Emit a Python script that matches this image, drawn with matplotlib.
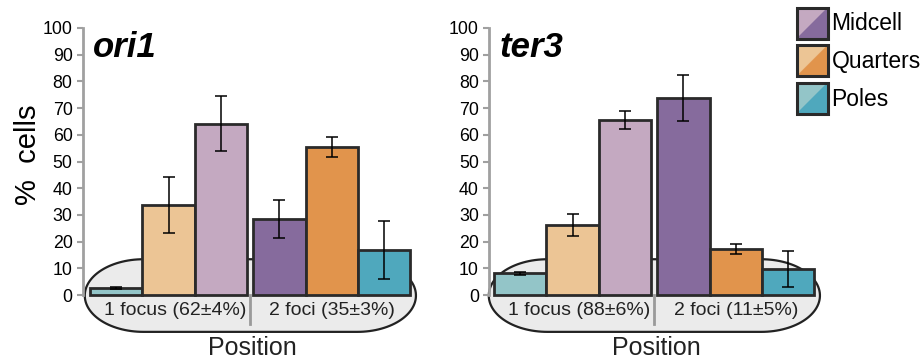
import numpy as np
import matplotlib
import matplotlib.pyplot as plt
from matplotlib.patches import Polygon

matplotlib.rcParams.update({
    'font.family': ['Liberation Sans', 'DejaVu Sans'],
    'font.size': 12.5,
})

# order within a group: 1 focus -> Poles, Quarters, Midcell ; 2 foci -> Midcell, Quarters, Poles
panels = ['ori1', 'ter3']
one_focus_cats = ['Poles', 'Quarters', 'Midcell']
two_foci_cats = ['Midcell', 'Quarters', 'Poles']

ori1_one = [2.5, 33.7, 64.2]
ori1_one_err = [0.4, 10.5, 10.3]
ori1_two = [28.5, 55.3, 16.8]
ori1_two_err = [7.2, 3.7, 10.8]

ter3_one = [8.1, 26.1, 65.5]
ter3_one_err = [0.6, 4.1, 3.4]
ter3_two = [73.8, 17.3, 9.8]
ter3_two_err = [8.5, 1.9, 6.8]

group_labels = {
    'ori1': ['1 focus (62±4%)', '2 foci (35±3%)'],
    'ter3': ['1 focus (88±6%)', '2 foci (11±5%)'],
}

light = {'Poles': '#93c5c8', 'Quarters': '#ecc595', 'Midcell': '#c4a9c1'}
dark = {'Poles': '#4fa8bd', 'Quarters': '#e1944c', 'Midcell': '#866b9d'}

data = {
    'ori1': (ori1_one, ori1_one_err, ori1_two, ori1_two_err),
    'ter3': (ter3_one, ter3_one_err, ter3_two, ter3_two_err),
}

W, H = 923, 362
fig = plt.figure(figsize=(W / 100, H / 100), dpi=100)

ax_specs = {
    'ori1': dict(left_px=83, xmin=-0.634),
    'ter3': dict(left_px=489.3, xmin=-0.59),
}
px_per_unit = 52.4
ymin, ymax = -14, 100
top_px, bot_px = 28, 332.4
gap = 0.115


def stadium(x0, x1, ylo, yhi, rx):
    ry = (yhi - ylo) / 2
    yc = (ylo + yhi) / 2
    t = np.linspace(np.pi / 2, -np.pi / 2, 60)
    right = np.column_stack([x1 - rx + rx * np.cos(t), yc + ry * np.sin(t)])
    t2 = np.linspace(-np.pi / 2, -3 * np.pi / 2, 60)
    left = np.column_stack([x0 + rx + rx * np.cos(t2), yc + ry * np.sin(t2)])
    return np.vstack([right, left])


for name in panels:
    spec = ax_specs[name]
    xmax = 5.73
    width_px = (xmax - spec['xmin']) * px_per_unit
    ax = fig.add_axes([spec['left_px'] / W, 1 - bot_px / H,
                       width_px / W, (bot_px - top_px) / H])
    one, one_err, two, two_err = data[name]
    x1 = np.arange(3)
    x2 = np.arange(3) + 3 + gap

    # background capsule
    ax.add_patch(Polygon(stadium(-0.6, 5.72, -13.8, 13.4, 1.12), closed=True,
                         facecolor='#ebebeb', edgecolor='#222222', lw=1.6,
                         zorder=0.5, clip_on=False))
    ax.plot([2.5 + gap / 2] * 2, [0, -10.8], color='#9a9a9a', lw=2,
            zorder=0.6, clip_on=False)

    ekw = dict(ecolor='black', elinewidth=1.1, capsize=4.5, capthick=1.1)
    ax.bar(x1, one, width=1, yerr=one_err, color=[light[c] for c in one_focus_cats],
           edgecolor='#2a2a2a', linewidth=2, error_kw=ekw, zorder=2)
    ax.bar(x2, two, width=1, yerr=two_err, color=[dark[c] for c in two_foci_cats],
           edgecolor='#2a2a2a', linewidth=2, error_kw=ekw, zorder=2)

    lab1, lab2 = group_labels[name]
    ax.text(x1.mean() + 0.12, -5.8, lab1, ha='center', va='center',
            fontsize=14, color='#222222')
    ax.text(x2.mean(), -5.8, lab2, ha='center', va='center',
            fontsize=14, color='#222222')

    ax.set_xlim(spec['xmin'], xmax)
    ax.set_ylim(ymin, ymax)
    ax.set_yticks(range(0, 101, 10))
    ax.set_xticks([])
    for s in ['top', 'right', 'bottom']:
        ax.spines[s].set_visible(False)
    ax.spines['left'].set_bounds(0, 100)
    ax.spines['left'].set_color('#a0a0a0')
    ax.spines['left'].set_linewidth(2)
    ax.tick_params(axis='y', colors='#a0a0a0', labelcolor='black',
                   length=4.5, width=1.5, pad=3, labelsize=12.8)
    ax.patch.set_visible(False)

    ax.text(0.03, 0.935, name, transform=ax.transAxes, fontsize=25,
            fontweight='bold', fontstyle='italic', ha='left', va='center')
    ax.text(x1.mean() + 1.6, -22.3, 'Position', ha='center', va='baseline',
            fontsize=18, color='#222222', clip_on=False)

fig.text(28 / W, 1 - 155 / H, '%  cells', rotation=90, ha='center',
         va='center', fontsize=21)

# legend with diagonally split swatches
lg = fig.add_axes([0, 0, 1, 1])
lg.set_xlim(0, W)
lg.set_ylim(H, 0)
lg.axis('off')
legend_cats = ['Midcell', 'Quarters', 'Poles']
for i, c in enumerate(legend_cats):
    x0, y0, s = 796.5, 7.5 + i * 37.5, 31
    lg.add_patch(Polygon([[x0, y0 + s], [x0, y0], [x0 + s, y0]],
                         facecolor=light[c], edgecolor='none'))
    lg.add_patch(Polygon([[x0, y0 + s], [x0 + s, y0], [x0 + s, y0 + s]],
                         facecolor=dark[c], edgecolor='none'))
    lg.add_patch(Polygon([[x0, y0], [x0 + s, y0], [x0 + s, y0 + s], [x0, y0 + s]],
                         facecolor='none', edgecolor='#2a2a2a', lw=2.2))
    lg.text(x0 + s + 4, y0 + s / 2 + 1, c, ha='left', va='center', fontsize=16.5)

fig.savefig('out.png', dpi=100)
